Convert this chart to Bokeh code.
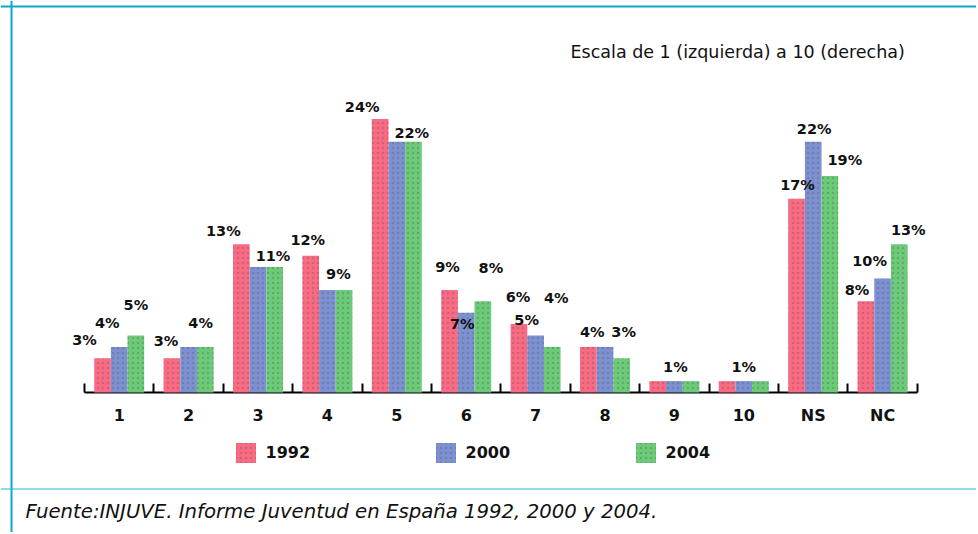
import numpy as np
from bokeh.plotting import figure
from bokeh.models import Range1d, LinearAxis, FixedTicker, Legend, LegendItem, Span
from bokeh.core.properties import value
from bokeh.embed import file_html
from bokeh.resources import INLINE

# ---------------- data ----------------
categories = ["1", "2", "3", "4", "5", "6", "7", "8", "9", "10", "NS", "NC"]
years = ["1992", "2000", "2004"]
v1992 = [3, 3, 13, 12, 24, 9, 6, 4, 1, 1, 17, 8]
v2000 = [4, 4, 11, 9, 22, 7, 5, 4, 1, 1, 22, 10]
v2004 = [5, 4, 11, 9, 22, 8, 4, 3, 1, 1, 19, 13]
title_text = "Escala de 1 (izquierda) a 10 (derecha)"
source_text = "Fuente:INJUVE. Informe Juventud en España 1992, 2000 y  2004."

# bars that carry a printed value label: (category index, series index)
labelled = [(0, 0), (0, 1), (0, 2), (1, 0), (1, 1), (2, 0), (2, 1), (3, 0), (3, 1),
            (4, 0), (4, 1), (5, 0), (5, 1), (5, 2), (6, 0), (6, 1), (6, 2), (7, 0), (7, 2),
            (8, 1), (9, 1), (10, 0), (10, 1), (10, 2), (11, 0), (11, 1), (11, 2)]

# ---------------- style / layout ----------------
label_nudge = [(-18, 18), (-12, 24), (0, 31), (-6, 17), (12, 24), (-18, 13), (15, 11),
               (-3, 16), (11, 16), (-18, 12), (15, 9), (-2, 23), (-4, -11), (8, 33),
               (-1, 27), (-9, 16), (4, 49), (4, 15), (2, 26), (1, 14), (0, 14),
               (1, 14), (1, 13), (15, 16), (-9, 11), (-13, 18), (9, 14)]
colors = ["#FA6A82", "#7C90D2", "#6CCB78"]
CYAN = "#0AA8CC"
FONT = "DejaVu Sans"
W, H = 976, 532
PAGE = 0
C0 = 118.7      # page px of first category centre
CATW = 69.4     # px per category
BASE = 392.0    # page px of the baseline
UNIT = 11.4     # px per percentage point
BARW = 0.24
offsets = [-BARW, 0.0, BARW]


def xd(px):
    return (px - PAGE - C0) / CATW


def yd(py):
    return (BASE - py) / UNIT


p = figure(width=W, height=H, output_backend="svg", toolbar_location=None,
           x_axis_type=None, y_axis_type=None,
           x_range=Range1d(xd(PAGE), xd(PAGE + W)), y_range=Range1d(yd(PAGE + H), yd(PAGE)),
           min_border=0, min_border_left=0, min_border_right=0, min_border_top=0, min_border_bottom=0)
p.outline_line_color = None
p.background_fill_color = "white"
p.border_fill_color = "white"

series = [v1992, v2000, v2004]
xs = np.arange(len(categories))
renderers = []
for s, vals in enumerate(series):
    r = p.vbar(x=xs + offsets[s], top=vals, bottom=0, width=BARW,
               fill_color=colors[s], line_color=None,
               hatch_pattern="dot", hatch_scale=5, hatch_color="#555555", hatch_alpha=0.3, hatch_weight=1)
    renderers.append(r)

# value labels
lx, ly, lt = [], [], []
for (c, s), (dx, up) in zip(labelled, label_nudge):
    v = series[s][c]
    lx.append(c + offsets[s] + dx / CATW)
    ly.append(v + up / UNIT)
    lt.append(f"{v}%")
p.text(x=lx, y=ly, text=lt, text_align="center", text_baseline="middle",
       text_font=value(FONT), text_font_size="14.5px", text_font_style="bold", text_color="#111111")

# x axis with boundary ticks
xa = LinearAxis(ticker=FixedTicker(ticks=list(range(len(categories))),
                                   minor_ticks=[i - 0.5 for i in range(len(categories) + 1)]),
                major_label_overrides={i: c for i, c in enumerate(categories)},
                fixed_location=0, bounds=(-0.5, len(categories) - 0.5))
xa.axis_line_width = 2
xa.axis_line_color = "black"
xa.major_tick_in = 0
xa.major_tick_out = 0
xa.minor_tick_in = 9
xa.minor_tick_out = 0
xa.minor_tick_line_width = 2
xa.minor_tick_line_color = "black"
xa.major_label_standoff = 13
xa.major_label_text_font = FONT
xa.major_label_text_font_size = "16px"
xa.major_label_text_font_style = "bold"
xa.major_label_text_color = "#111111"
xa.level = "underlay"
p.add_layout(xa, "below")

# title & source
p.text(x=[xd(570)], y=[yd(51.5)], text=[title_text], text_align="left", text_baseline="alphabetic",
       text_font=value(FONT), text_font_size="17.5px", text_color="#111111")
p.text(x=[xd(25)], y=[yd(510.7)], text=[source_text], text_align="left", text_baseline="alphabetic",
       text_font=value(FONT), text_font_size="19.7px", text_font_style="italic", text_color="#111111")

# frame lines
p.add_layout(Span(location=xd(11), dimension="height", line_color=CYAN, line_width=2))
p.add_layout(Span(location=yd(6), dimension="width", line_color=CYAN, line_width=2))
p.add_layout(Span(location=yd(488.5), dimension="width", line_color="#22B4D8", line_width=1))

# legend
legend = Legend(items=[LegendItem(label=years[s], renderers=[renderers[s]]) for s in range(3)],
                orientation="horizontal", location=(232.5 - PAGE, H - (465 - PAGE)),
                glyph_width=25, glyph_height=25, label_standoff=8, label_width=60, spacing=107,
                padding=0, margin=0, border_line_color=None, background_fill_alpha=0,
                label_text_font=FONT, label_text_font_size="16px", label_text_font_style="bold",
                label_text_color="#111111")
p.add_layout(legend, "center")

open("out.html", "w").write(file_html(p, INLINE))
